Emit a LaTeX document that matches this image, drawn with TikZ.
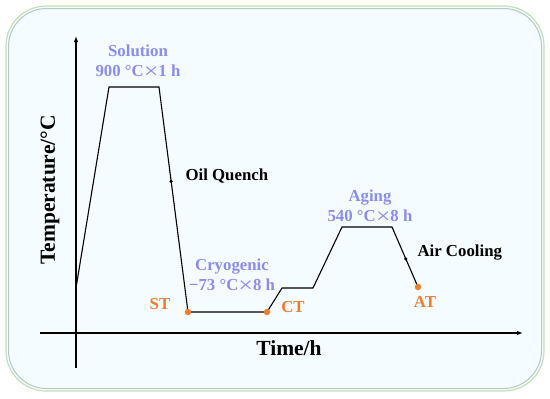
\documentclass[tikz,border=0pt]{standalone}
\usepackage{fontspec}
\usepackage{graphicx}
\setmainfont{Liberation Serif}
\usetikzlibrary{arrows.meta}
\definecolor{stepblue}{RGB}{140,140,235}
\definecolor{pointorange}{RGB}{237,125,49}
\definecolor{framefill}{RGB}{245,252,255}
\definecolor{framegreen}{RGB}{197,224,180}
\definecolor{framegrey}{RGB}{185,198,198}
\newcommand\holdtimes{\raisebox{-0.3ex}{\scalebox{1.55}[1.3]{\mdseries ×}}}
\begin{document}
\begin{tikzpicture}[
        x=1pt, y=-1pt, % pixel grid of the reference
        font=\bfseries\fontsize{16.8}{20}\selectfont,
        axis/.style={line width=1.1pt, -{Latex[length=6pt,width=4.5pt]}},
        path line/.style={line width=1.1pt, line join=miter},
        stepnote/.style={text=stepblue, align=center, inner sep=1pt},
        pointnote/.style={text=pointorange, inner sep=1pt},
        point/.style={circle, fill=pointorange, inner sep=0pt, minimum size=6.5pt},
        tick/.style={circle, fill=black, inner sep=0pt, minimum size=3.5pt},
        axislabel/.style={font=\bfseries\fontsize{21.5}{24}\selectfont}
    ]
    \useasboundingbox (0,0) rectangle (550,399);

    % Frame
    \draw[framegreen, line width=1.2pt, fill=framefill, rounded corners=40pt] (6,6) rectangle (544,391);
    \draw[framegrey, line width=1pt, rounded corners=38pt] (8.5,8.5) rectangle (541.5,388.5);

    % Axes
    \coordinate (ybot) at (76,368);
    \coordinate (ytop) at (76,36);
    \coordinate (xleft) at (40,333);
    \coordinate (xright) at (523,333);
    \draw[axis] (ybot) -- (ytop);
    \draw[axis] (xleft) -- (xright);
    \node[axislabel, rotate=90] (templabel) at (50,190) {Temperature/°C};
    \node[axislabel] (timelabel) at (289,348) {Time/h};

    % Heat treatment path
    \coordinate (start) at (76,288);
    \coordinate (sol1) at (109,87);
    \coordinate (sol2) at (159,87);
    \coordinate (st) at (188,312);
    \coordinate (ct) at (267,312);
    \coordinate (cry1) at (282,288);
    \coordinate (cry2) at (313,288);
    \coordinate (age1) at (342,227);
    \coordinate (age2) at (392,227);
    \coordinate (at) at (418,287);
    \draw[path line] (start) -- (sol1) -- (sol2) -- (st) -- (ct) -- (cry1) -- (cry2) -- (age1) -- (age2) -- (at);

    % Points on the path
    \path (sol2) -- (st) node[tick, pos=0.42] (quench) {};
    \path (age2) -- (at) node[tick, pos=0.53] (cooling) {};
    \node[point] (STdot) at (st) {};
    \node[point] (CTdot) at (ct) {};
    \node[point] (ATdot) at (at) {};

    % Stage labels
    \node[stepnote] (solution) at (138,62) {Solution\\900~°C\holdtimes1~h};
    \node[stepnote] (cryogenic) at (232,276) {Cryogenic\\−73~°C\holdtimes8~h};
    \node[stepnote] (aging) at (370,207) {Aging\\540~°C\holdtimes8~h};
    \node[anchor=west] (quenchnote) at (182,176) {Oil Quench};
    \node[anchor=west] (coolingnote) at (414,253) {Air Cooling};
    \node[pointnote] (STnote) at (160,304) {ST};
    \node[pointnote] (CTnote) at (293,307) {CT};
    \node[pointnote] (ATnote) at (425,302) {AT};

\end{tikzpicture}
\end{document}
